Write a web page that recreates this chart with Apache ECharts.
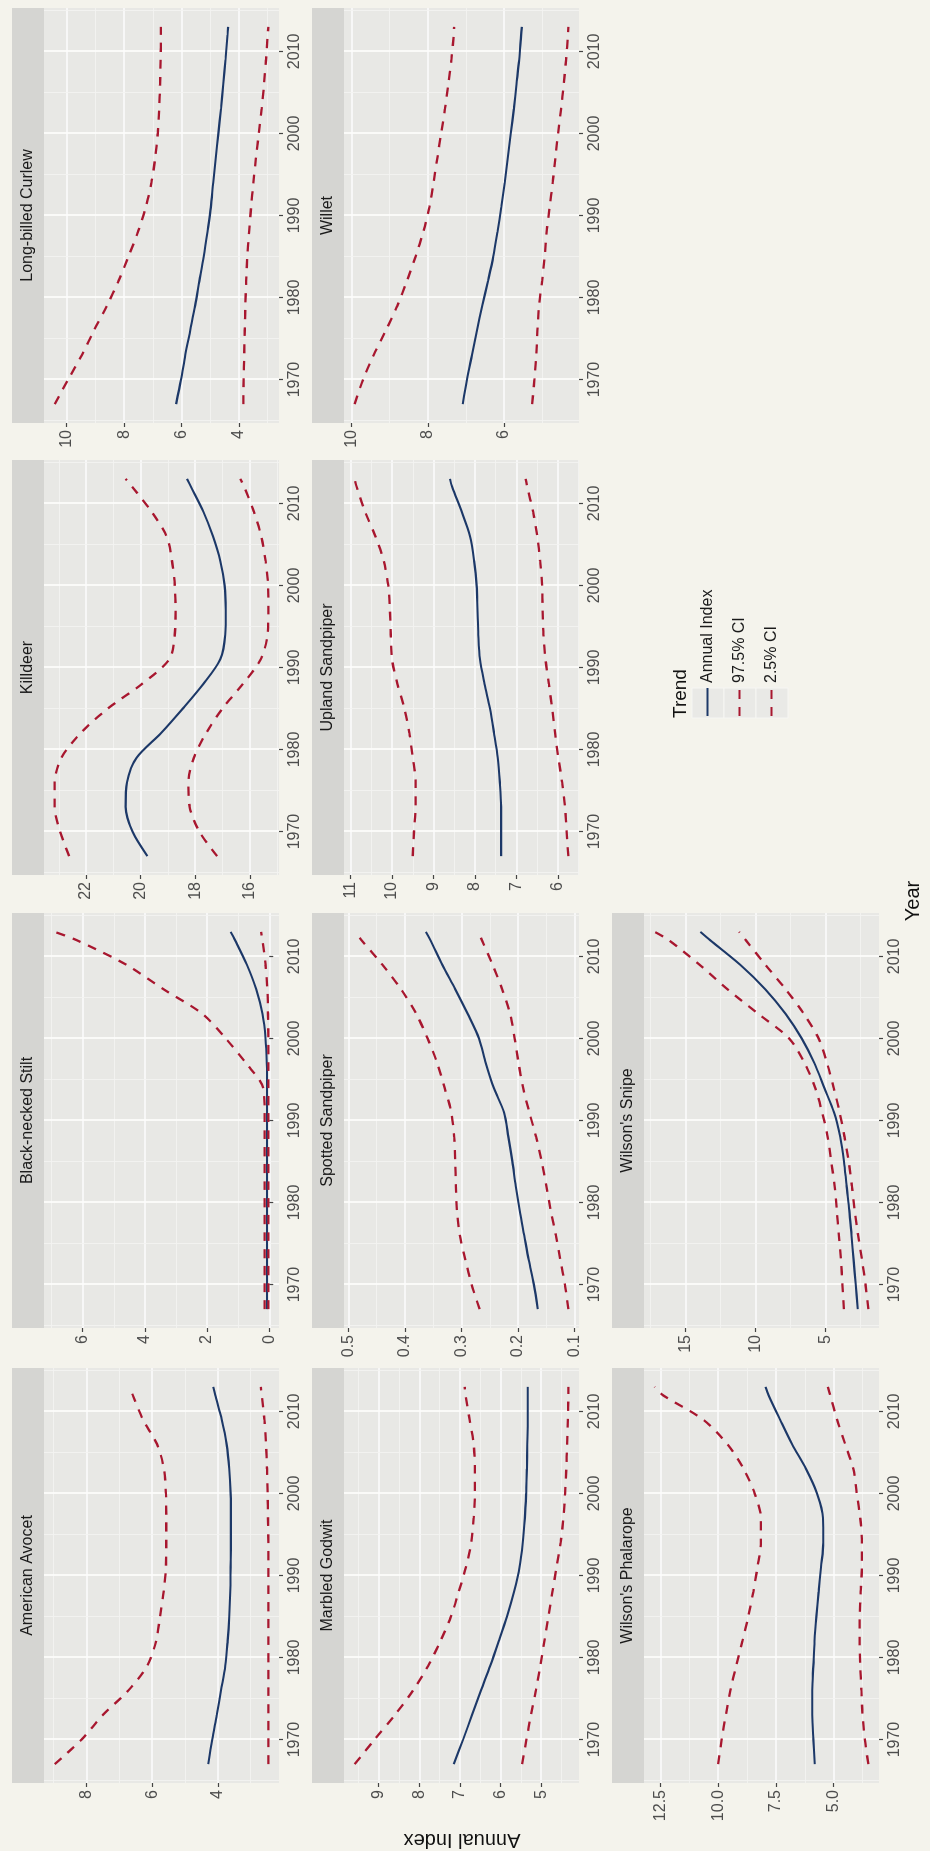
<!DOCTYPE html>
<html>
<head>
<meta charset="utf-8">
<script src="https://cdn.jsdelivr.net/npm/echarts@6/dist/echarts.min.js"></script>
<style>
html,body{margin:0;padding:0;background:#f4f3ec;overflow:hidden;}
#wrap{position:absolute;left:0;top:0;width:930px;height:1851px;overflow:hidden;background:#f4f3ec;}
#chart{position:absolute;left:0;top:0;width:1851px;height:930px;transform-origin:0 0;transform:translate(0,1851px) rotate(-90deg);}
</style>
</head>
<body>
<div id="wrap"><div id="chart"></div></div>
<script>
// ---------------- data ----------------
const years = [1967,1970,1973,1976,1979,1982,1985,1988,1991,1994,1997,2000,2003,2006,2009,2012,2013];
const yearTicks = [1970,1980,1990,2000,2010];

const americanAvocetUpper = [8.97,8.15,7.5,6.72,6.15,5.88,5.76,5.65,5.58,5.57,5.57,5.58,5.64,5.85,6.28,6.59,6.68];
const americanAvocetIndex = [4.29,4.17,4.03,3.9,3.77,3.7,3.65,3.62,3.61,3.6,3.6,3.61,3.65,3.73,3.88,4.08,4.14];
const americanAvocetLower = [2.46,2.46,2.46,2.46,2.46,2.46,2.46,2.46,2.46,2.46,2.47,2.48,2.5,2.53,2.58,2.66,2.69];
const americanAvocetTicks = [4,6,8];

const blackneckedStiltUpper = [0.15,0.15,0.15,0.15,0.15,0.15,0.15,0.15,0.15,0.2,0.75,1.4,2.15,3.4,4.6,6.2,6.9];
const blackneckedStiltIndex = [0.07,0.07,0.07,0.07,0.07,0.07,0.07,0.07,0.07,0.07,0.08,0.12,0.22,0.42,0.72,1.1,1.24];
const blackneckedStiltLower = [0.03,0.03,0.03,0.03,0.03,0.03,0.03,0.03,0.03,0.03,0.03,0.03,0.04,0.06,0.12,0.22,0.26];
const blackneckedStiltTicks = [0,2,4,6];

const killdeerUpper = [22.62,22.95,23.15,23.15,22.9,22.2,21.2,19.95,18.95,18.75,18.72,18.75,18.85,19.05,19.6,20.3,20.55];
const killdeerIndex = [19.75,20.3,20.55,20.5,20.15,19.25,18.45,17.7,17.08,16.9,16.88,16.92,17.08,17.35,17.7,18.15,18.3];
const killdeerLower = [17.2,17.85,18.2,18.25,18.05,17.6,17.0,16.25,15.6,15.35,15.32,15.33,15.42,15.58,15.85,16.2,16.35];
const killdeerTicks = [16,18,20,22];

const longbilledCurlewUpper = [10.42,9.95,9.47,9.05,8.6,8.2,7.85,7.52,7.25,7.05,6.92,6.83,6.78,6.75,6.73,6.72,6.72];
const longbilledCurlewIndex = [6.19,6.02,5.87,5.7,5.53,5.38,5.23,5.1,4.98,4.9,4.81,4.72,4.63,4.55,4.47,4.4,4.38];
const longbilledCurlewLower = [3.85,3.84,3.82,3.8,3.78,3.75,3.71,3.65,3.58,3.5,3.41,3.31,3.21,3.13,3.06,3.0,2.98];
const longbilledCurlewTicks = [4,6,8,10];

const marbledGodwitUpper = [9.59,9.1,8.6,8.15,7.78,7.48,7.22,7.03,6.85,6.72,6.66,6.63,6.63,6.66,6.76,6.86,6.88];
const marbledGodwitIndex = [7.15,6.92,6.7,6.48,6.25,6.04,5.84,5.67,5.53,5.45,5.4,5.37,5.35,5.34,5.33,5.33,5.33];
const marbledGodwitLower = [5.47,5.36,5.25,5.13,5.02,4.92,4.82,4.72,4.62,4.52,4.45,4.41,4.38,4.36,4.34,4.33,4.33];
const marbledGodwitTicks = [5,6,7,8,9];

const spottedSandpiperUpper = [0.268,0.282,0.293,0.303,0.308,0.31,0.311,0.313,0.318,0.33,0.343,0.36,0.38,0.407,0.44,0.477,0.489];
const spottedSandpiperIndex = [0.165,0.172,0.181,0.189,0.197,0.204,0.21,0.217,0.225,0.243,0.257,0.269,0.289,0.311,0.334,0.355,0.363];
const spottedSandpiperLower = [0.111,0.117,0.125,0.133,0.142,0.15,0.158,0.168,0.18,0.191,0.199,0.206,0.214,0.228,0.245,0.264,0.27];
const spottedSandpiperTicks = [0.1,0.2,0.3,0.4,0.5];

const uplandSandpiperUpper = [9.5,9.47,9.43,9.43,9.5,9.58,9.7,9.87,10.0,10.03,10.05,10.09,10.2,10.4,10.65,10.85,10.9];
const uplandSandpiperIndex = [7.37,7.37,7.37,7.4,7.45,7.54,7.64,7.77,7.88,7.92,7.94,7.96,8.02,8.12,8.32,8.55,8.6];
const uplandSandpiperLower = [5.75,5.79,5.83,5.9,5.99,6.07,6.14,6.22,6.3,6.35,6.37,6.38,6.43,6.5,6.6,6.74,6.78];
const uplandSandpiperTicks = [6,7,8,9,10,11];

const willetUpper = [9.92,9.7,9.42,9.1,8.8,8.55,8.32,8.12,7.96,7.85,7.75,7.65,7.55,7.46,7.38,7.32,7.31];
const willetIndex = [7.08,6.97,6.84,6.71,6.57,6.42,6.28,6.17,6.07,5.98,5.9,5.82,5.74,5.67,5.6,5.55,5.53];
const willetLower = [5.26,5.2,5.15,5.12,5.08,5.0,4.93,4.88,4.8,4.72,4.65,4.58,4.5,4.43,4.37,4.32,4.31];
const willetTicks = [6,8,10];

const wilsonsPhalaropeUpper = [10.0,9.85,9.67,9.47,9.22,8.95,8.7,8.48,8.3,8.15,8.15,8.42,8.9,9.6,10.65,12.4,12.75];
const wilsonsPhalaropeIndex = [5.82,5.88,5.93,5.93,5.88,5.83,5.75,5.65,5.55,5.45,5.46,5.72,6.2,6.8,7.32,7.82,7.95];
const wilsonsPhalaropeLower = [3.5,3.65,3.75,3.8,3.85,3.88,3.87,3.83,3.78,3.78,3.85,4.0,4.15,4.5,4.85,5.15,5.25];
const wilsonsPhalaropeTicks = [5.0,7.5,10.0,12.5];

const wilsonsSnipeUpper = [3.7,3.8,3.9,4.05,4.2,4.35,4.6,4.85,5.25,5.75,6.5,7.6,9.8,12.0,14.0,16.2,17.2];
const wilsonsSnipeIndex = [2.7,2.85,3.0,3.15,3.3,3.5,3.68,3.95,4.4,5.1,5.8,6.7,7.85,9.3,11.1,13.25,13.94];
const wilsonsSnipeLower = [1.95,2.15,2.4,2.68,2.92,3.12,3.35,3.65,4.0,4.42,4.9,5.5,6.55,7.85,9.3,10.7,11.17];
const wilsonsSnipeTicks = [5,10,15];

const speciesNames = ["American Avocet","Black-necked Stilt","Killdeer","Long-billed Curlew",
  "Marbled Godwit","Spotted Sandpiper","Upland Sandpiper","Willet","Wilson's Phalarope","Wilson's Snipe"];
const legendNames = ["Annual Index","97.5% CI","2.5% CI"];

// ---------------- build ----------------
const panels = [
  [americanAvocetIndex, americanAvocetUpper, americanAvocetLower, americanAvocetTicks],
  [blackneckedStiltIndex, blackneckedStiltUpper, blackneckedStiltLower, blackneckedStiltTicks],
  [killdeerIndex, killdeerUpper, killdeerLower, killdeerTicks],
  [longbilledCurlewIndex, longbilledCurlewUpper, longbilledCurlewLower, longbilledCurlewTicks],
  [marbledGodwitIndex, marbledGodwitUpper, marbledGodwitLower, marbledGodwitTicks],
  [spottedSandpiperIndex, spottedSandpiperUpper, spottedSandpiperLower, spottedSandpiperTicks],
  [uplandSandpiperIndex, uplandSandpiperUpper, uplandSandpiperLower, uplandSandpiperTicks],
  [willetIndex, willetUpper, willetLower, willetTicks],
  [wilsonsPhalaropeIndex, wilsonsPhalaropeUpper, wilsonsPhalaropeLower, wilsonsPhalaropeTicks],
  [wilsonsSnipeIndex, wilsonsSnipeUpper, wilsonsSnipeLower, wilsonsSnipeTicks]
];

const FONT = "'Liberation Sans', Arial, Helvetica, sans-serif";
const colLeft = [68, 523, 976, 1428];
const rowTop = [44, 344, 644];
const PW = 415, PH = 235, STRIP = 32;
const PANEL_BG = '#e8e8e5', STRIP_BG = '#d5d5d2';
const NAVY = '#1c3868', RED = '#a8172f';

function expand(lo, hi) { const r = hi - lo; return [lo - 0.05 * r, hi + 0.05 * r]; }
function minorsOf(ticks, lo, hi) {
  const step = ticks[1] - ticks[0];
  const out = [ticks[0] - step / 2];
  ticks.forEach(t => out.push(t + step / 2));
  return out.filter(v => v >= lo && v <= hi).map(v => +v.toFixed(6));
}
function decimalsOf(ticks) {
  return Math.max(...ticks.map(t => { const s = String(t); return s.includes('.') ? s.split('.')[1].length : 0; }));
}

const [xMin, xMax] = expand(Math.min(...years), Math.max(...years));
const yearMinor = minorsOf(yearTicks, xMin, xMax);

const grids = [], xAxes = [], yAxes = [], series = [], graphics = [];

panels.forEach((p, i) => {
  const [idx, up, lo, ticks] = p;
  const col = i % 4, row = Math.floor(i / 4);
  const left = colLeft[col], top = rowTop[row];
  grids.push({ left: left, top: top, width: PW, height: PH, show: true, backgroundColor: PANEL_BG, borderWidth: 0 });
  const all = idx.concat(up, lo);
  const [yMin, yMax] = expand(Math.min(...all), Math.max(...all));
  const yMinor = minorsOf(ticks, yMin, yMax);
  const dec = decimalsOf(ticks);

  // minor axes
  xAxes.push({ type: 'value', gridIndex: i, position: 'bottom', min: xMin, max: xMax, axisLine: { show: false },
    axisTick: { show: false, customValues: yearMinor }, axisLabel: { show: false, customValues: yearMinor },
    splitLine: { show: true, lineStyle: { color: '#f3f3f1', width: 0.9 } } });
  yAxes.push({ type: 'value', gridIndex: i, position: 'left', min: yMin, max: yMax, axisLine: { show: false },
    axisTick: { show: false, customValues: yMinor }, axisLabel: { show: false, customValues: yMinor },
    splitLine: { show: true, lineStyle: { color: '#f3f3f1', width: 0.9 } } });
  // major axes
  xAxes.push({ type: 'value', gridIndex: i, position: 'bottom', min: xMin, max: xMax, axisLine: { show: false },
    axisTick: { show: true, length: 4, lineStyle: { color: '#444', width: 1.2 }, customValues: yearTicks },
    axisLabel: { customValues: yearTicks, color: '#4d4d4d', fontSize: 16, fontFamily: FONT, margin: 8,
      formatter: v => String(Math.round(v)) },
    splitLine: { show: true, lineStyle: { color: '#fdfdfc', width: 1.7 } } });
  yAxes.push({ type: 'value', gridIndex: i, position: 'left', min: yMin, max: yMax, axisLine: { show: false },
    axisTick: { show: true, length: 4, lineStyle: { color: '#444', width: 1.2 }, customValues: ticks },
    axisLabel: { customValues: ticks, color: '#4d4d4d', fontSize: 16, fontFamily: FONT, margin: 7,
      formatter: v => Number(v).toFixed(dec) },
    splitLine: { show: true, lineStyle: { color: '#fdfdfc', width: 1.7 } } });

  const ax = 2 * i + 1;
  const mk = (arr, name, color, type, w) => ({
    type: 'line', name: name, xAxisIndex: ax, yAxisIndex: ax, symbol: 'none', showSymbol: false,
    smooth: 0.3, silent: true, animation: false, z: 3,
    lineStyle: { color: color, width: w, type: type }, itemStyle: { color: color },
    data: years.map((yr, k) => [yr, arr[k]])
  });
  series.push(mk(up, legendNames[1], RED, [9, 8], 2.3));
  series.push(mk(idx, legendNames[0], NAVY, 'solid', 2.1));
  series.push(mk(lo, legendNames[2], RED, [9, 8], 2.3));

  graphics.push({ type: 'rect', silent: true, shape: { x: left, y: top - STRIP, width: PW, height: STRIP }, style: { fill: STRIP_BG } });
  graphics.push({ type: 'text', silent: true, x: left + PW / 2, y: top - STRIP / 2,
    style: { text: speciesNames[i], fill: '#1a1a1a', font: '16px ' + FONT, textAlign: 'center', textVerticalAlign: 'middle', align: 'center', verticalAlign: 'middle' } });
});

// legend key backgrounds
[0, 1, 2].forEach(k => {
  graphics.push({ type: 'rect', silent: true, z: 1, shape: { x: 1133, y: 692 + 32 * k, width: 30, height: 32 },
    style: { fill: '#e9e9e6', stroke: '#f6f6f3', lineWidth: 1 } });
});
graphics.push({ type: 'text', silent: true, x: 1133, y: 681,
  style: { text: 'Trend', fill: '#111', font: '19px ' + FONT, textAlign: 'left', textVerticalAlign: 'middle', align: 'left', verticalAlign: 'middle' } });
graphics.push({ type: 'text', silent: true, x: 950, y: 913,
  style: { text: 'Year', fill: '#111', font: '20px ' + FONT, textAlign: 'center', textVerticalAlign: 'middle', align: 'center', verticalAlign: 'middle' } });
graphics.push({ type: 'text', silent: true, x: 11, y: 462, rotation: Math.PI / 2,
  style: { text: 'Annual Index', fill: '#111', font: '20px ' + FONT, textAlign: 'center', textVerticalAlign: 'middle', align: 'center', verticalAlign: 'middle' } });

const chart = echarts.init(document.getElementById('chart'), null, { width: 1851, height: 930, devicePixelRatio: 1 });
chart.setOption({
  backgroundColor: '#f4f3ec',
  animation: false,
  grid: grids,
  xAxis: xAxes,
  yAxis: yAxes,
  series: series,
  graphic: { elements: graphics },
  legend: {
    data: legendNames, orient: 'vertical', left: 1134, top: 699, padding: 0,
    itemWidth: 28, itemHeight: 17, itemGap: 15, selectedMode: false,
    itemStyle: { opacity: 0 },
    textStyle: { fontSize: 16, color: '#1a1a1a', fontFamily: FONT, lineHeight: 17 }
  }
});
</script>
</body>
</html>
